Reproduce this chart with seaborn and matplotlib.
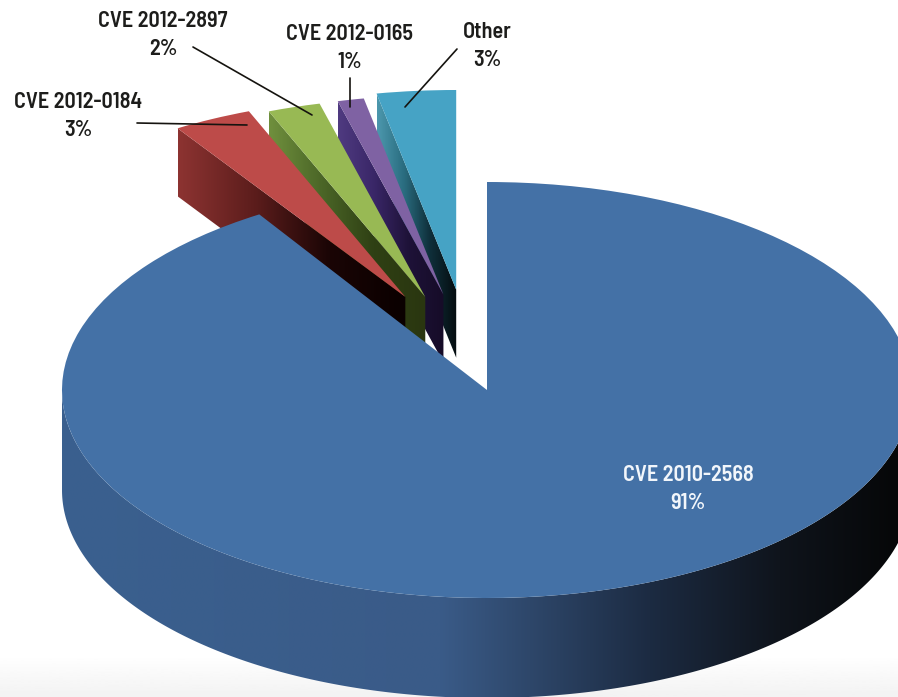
import numpy as np
import matplotlib
matplotlib.use("Agg")
import matplotlib.pyplot as plt
from matplotlib.colors import to_rgb
from matplotlib.patches import Polygon
from matplotlib.transforms import Affine2D
import seaborn as sns

# Exploit share per vulnerability, clockwise from twelve o'clock
categories = ["CVE 2010-2568", "CVE 2012-0184", "CVE 2012-2897", "CVE 2012-0165", "Other"]
shares = [91, 3, 2, 1, 3]
top_colors = ["#4471a6", "#bd4b49", "#98b954", "#7f62a3", "#46a3c5"]

# Shading of the radial walls, from the outer end to the inner end
wall_ramps = [
    None,
    ["#8c3331", "#5c1d1c", "#1a0505", "#0a0000"],
    ["#6f8f3d", "#4b6627", "#2f4014", "#2a3610"],
    ["#4f3a80", "#3a2768", "#1e1238", "#160c28"],
    ["#4c97ad", "#2a6d80", "#0f2f3a", "#050d10"],
]
# Shading of the big slice's rim, by horizontal pixel position
rim_stops_x = [62, 440, 530, 650, 780, 898]
rim_stops_c = ["#3a608f", "#3a5b88", "#2e476a", "#1c2b42", "#0f141c", "#060708"]

explode = [0, 0.47, 0.47, 0.47, 0.47]
nudge_px = [(0, 0), (9, -6), (0, 0), (0, 0), (-12, -3)]
SMALL_SQUASH = 0.96

W, H = 898, 697
CX, CY, RX, RY = 487, 390, 425, 208
RIM_DEPTH = 100 / RY
WALL_DEPTH = 68 / RY


def px(x, y):
    """Pixel position on the canvas to data coordinates of the pie."""
    return (x - CX) / RX, (CY - y) / RY


def shaded_polygon(ax, verts, colours, zorder):
    """Fill a polygon with a left-to-right colour gradient."""
    verts = np.asarray(verts)
    strip = np.asarray(colours)[None, :, :]
    im = ax.imshow(strip, extent=(verts[:, 0].min(), verts[:, 0].max(),
                                  verts[:, 1].min(), verts[:, 1].max()),
                   aspect="auto", interpolation="bilinear", zorder=zorder)
    im.set_clip_path(Polygon(verts, closed=True, transform=ax.transData))


sns.set_theme(style="white")
plt.rcParams["font.family"] = ["Barlow Semi Condensed", "Roboto", "DejaVu Sans"]

fig, ax = plt.subplots(figsize=(W / 100, H / 100), dpi=100)
fig.subplots_adjust(0, 0, 1, 1)

wedges, _ = ax.pie(shares, colors=top_colors, startangle=90, counterclock=False,
                   explode=explode, radius=1, wedgeprops=dict(linewidth=0))
ax.set_aspect("auto")

# Faint grey fade along the lower edge of the page
fade = np.linspace(0.95, 1.0, 40)[:, None]
x0, y0 = px(0, H)
x1, y1 = px(W, 655)
ax.imshow(fade, extent=(x0, x1, y0, y1), cmap="gray", vmin=0, vmax=1,
          aspect="auto", origin="lower", zorder=0)

# Small slices stacked right to left, each wall sitting under its own top
order = [4, 3, 2, 1]
for k, i in enumerate(order):
    w = wedges[i]
    dx, dy = nudge_px[i]
    cx = w.center[0] + dx / RX
    cy = w.center[1] - dy / RY
    w.set_center((cx, cy))
    w.set_transform(Affine2D().translate(-cx, -cy).scale(1, SMALL_SQUASH)
                    .translate(cx, cy) + ax.transData)
    a = np.deg2rad(w.theta2)
    ox, oy = cx + np.cos(a), cy + SMALL_SQUASH * np.sin(a)
    verts = [(ox, oy), (cx, cy), (cx, cy - WALL_DEPTH), (ox, oy - WALL_DEPTH)]
    shaded_polygon(ax, verts, sns.blend_palette(wall_ramps[i], n_colors=80), 2 + k)
    w.set_zorder(2.5 + k)

# Front rim of the big slice
big = wedges[0]
rad = np.deg2rad(np.linspace(-180, 0, 361))
rim_x, rim_y = np.cos(rad), np.sin(rad)
rim_verts = np.vstack([np.column_stack([rim_x, rim_y]),
                       np.column_stack([rim_x[::-1], rim_y[::-1] - RIM_DEPTH])])
rgb = np.array([to_rgb(c) for c in rim_stops_c])
columns = np.linspace(-1, 1, 600) * RX + CX
rim_colours = np.column_stack([np.interp(columns, rim_stops_x, rgb[:, ch]) for ch in range(3)])
shaded_polygon(ax, rim_verts, rim_colours, 10)
big.set_zorder(11)

# Leader lines from the outside labels to their slices
leaders = [((137, 123), (247, 125)), ((193, 47), (312, 115)),
           ((350, 78), (350, 107)), ((457, 49), (405, 107))]
for a, b in leaders:
    p, q = px(*a), px(*b)
    ax.plot([p[0], q[0]], [p[1], q[1]], color="#15130f", lw=1.2, zorder=15)

label_pos = [(688, 489), (78, 116), (163, 35), (350, 48), (487, 46)]
label_col = ["#f2f6fb", "#1d1d1b", "#1d1d1b", "#1d1d1b", "#1d1d1b"]
for name, share, pos, col in zip(categories, shares, label_pos, label_col):
    x, y = px(*pos)
    ax.text(x, y, f"{name}\n{share}%", ha="center", va="center", color=col,
            fontsize=16, fontweight="semibold", linespacing=1.45, zorder=20)

ax.set_xlim(px(0, 0)[0], px(W, 0)[0])
ax.set_ylim(px(0, H)[1], px(0, 0)[1])
ax.axis("off")

fig.savefig("out.png", dpi=100)
